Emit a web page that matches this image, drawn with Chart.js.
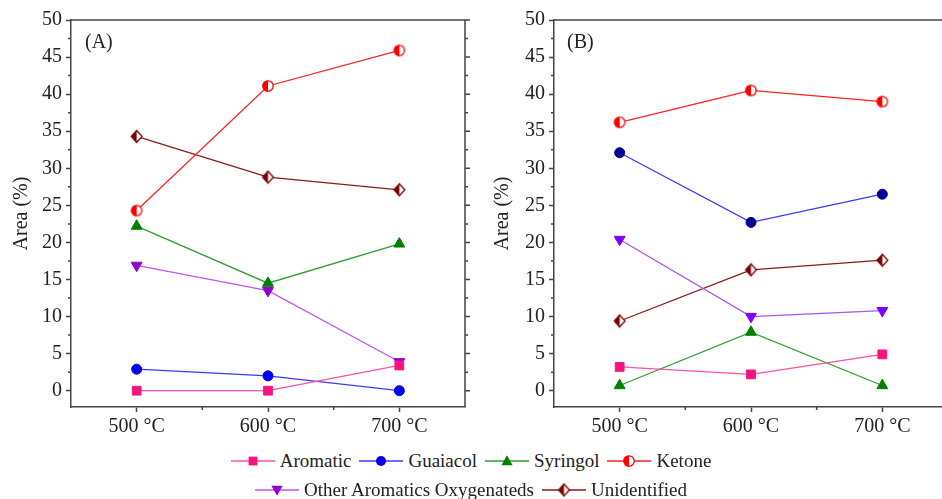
<!DOCTYPE html>
<html lang="en">
<head>
  <meta charset="UTF-8" />
  <title>Area (%) by temperature</title>
  <script src="https://cdn.jsdelivr.net/npm/chart.js"></script>
  <style>
    html, body {
      margin: 0; padding: 0;
      background: #fff;
      width: 942px; height: 499px;
      overflow: hidden; position: relative;
      font-family: 'Liberation Serif', 'Times New Roman', serif;
      color: #222;
    }
    #chartA { position: absolute; left: 0; top: 0; }
    #chartB { position: absolute; left: 480px; top: 0; }
    .tag { position: absolute; top: 29px; font-size: 20px; line-height: 24px; }
    #legend {
      position: absolute; left: 0; right: 0; top: 446px;
      font-size: 19px; line-height: 29px;
    }
    .row { display: flex; justify-content: center; align-items: center; }
    .item { display: flex; align-items: center; margin: 0 4px; }
    .item canvas { margin-right: 5px; }
  </style>
</head>
<body>
  <canvas id="chartA" width="480" height="445"></canvas>
  <canvas id="chartB" width="480" height="445"></canvas>
  <div class="tag" style="left:85px">(A)</div>
  <div class="tag" style="left:567px">(B)</div>
  <div id="legend">
    <div class="row" id="row1"></div>
    <div class="row" id="row2"></div>
  </div>

  <script>
    // ─── data ───────────────────────────────────────────────
    const TEMPS       = [500, 600, 700];
    const TICK_LABELS = ['500 °C', '600 °C', '700 °C'];
    const Y_TICKS     = [0, 5, 10, 15, 20, 25, 30, 35, 40, 45, 50];
    const SERIES      = ['Aromatic', 'Guaiacol', 'Syringol', 'Ketone',
                         'Other Aromatics Oxygenateds', 'Unidentified'];

    // panel (A)
    const aromaticA     = [0, 0, 3.4];
    const guaiacolA     = [2.9, 2.0, 0];
    const syringolA     = [22.2, 14.5, 19.8];
    const ketoneA       = [24.3, 41.1, 45.9];
    const otherOxyA     = [16.9, 13.5, 3.9];
    const unidentifiedA = [34.3, 28.8, 27.1];

    // panel (B)
    const aromaticB     = [3.2, 2.2, 4.9];
    const guaiacolB     = [32.1, 22.7, 26.5];
    const syringolB     = [0.7, 7.9, 0.7];
    const ketoneB       = [36.2, 40.5, 39.0];
    const otherOxyB     = [20.4, 10.0, 10.8];
    const unidentifiedB = [9.4, 16.3, 17.6];

    const FONT = "'Liberation Serif', 'Times New Roman', serif";
    const AXIS = '#444';

    // ─── half-filled marker images ──────────────────────────
    function halfCircle(color, r) {
      const c = document.createElement('canvas');
      const s = 2 * r + 3; c.width = c.height = s;
      const g = c.getContext('2d'), m = s / 2;
      g.fillStyle = '#fff';
      g.beginPath(); g.arc(m, m, r, 0, Math.PI * 2); g.fill();
      g.fillStyle = color;
      g.beginPath(); g.arc(m, m, r, Math.PI / 2, Math.PI * 1.5); g.closePath(); g.fill();
      g.strokeStyle = color; g.lineWidth = 1.3;
      g.beginPath(); g.arc(m, m, r - 0.3, 0, Math.PI * 2); g.stroke();
      return c;
    }
    function halfDiamond(color, r) {
      const c = document.createElement('canvas');
      const s = 2 * r + 3; c.width = c.height = s;
      const g = c.getContext('2d'), m = s / 2;
      const w = r * 0.9;
      g.fillStyle = '#fff';
      g.beginPath(); g.moveTo(m, m - r); g.lineTo(m + w, m); g.lineTo(m, m + r); g.lineTo(m - w, m); g.closePath(); g.fill();
      g.fillStyle = color;
      g.beginPath(); g.moveTo(m, m - r); g.lineTo(m, m + r); g.lineTo(m - w, m); g.closePath(); g.fill();
      g.strokeStyle = color; g.lineWidth = 1.3;
      g.beginPath(); g.moveTo(m, m - r); g.lineTo(m + w, m); g.lineTo(m, m + r); g.lineTo(m - w, m); g.closePath(); g.stroke();
      return c;
    }

    // styles per series: line colour, marker colour in A and in B
    const STYLES = [
      { line: '#FF50A8', markA: '#F5147F', markB: '#F5147F', style: 'rect',     radius: 6.2 },
      { line: '#3A3AFF', markA: '#0000F0', markB: '#000090', style: 'circle',   radius: 5 },
      { line: '#30A030', markA: '#008000', markB: '#008000', style: 'triangle', radius: 6.3 },
      { line: '#FF2020', markA: '#FF0000', markB: '#FF0000', style: 'halfC',    radius: 5.5 },
      { line: '#C455EE', markA: '#9400CC', markB: '#8000FF', style: 'triDown',  radius: 6.3 },
      { line: '#8B1A1A', markA: '#7A0000', markB: '#7A0000', style: 'halfD',    radius: 6 }
    ];
    const LINE_B = ['#FF50A8', '#3A3AFF', '#30A030', '#FF2020', '#A855F7', '#8B1A1A'];

    function pointStyleFor(st, color) {
      if (st.style === 'halfC') return halfCircle(color, st.radius);
      if (st.style === 'halfD') return halfDiamond(color, st.radius);
      if (st.style === 'triDown') return 'triangle';
      return st.style;
    }

    function makeSets(values, panel) {
      return values.map((vals, i) => {
        const st = STYLES[i];
        const mark = panel === 'A' ? st.markA : st.markB;
        return {
          label: SERIES[i],
          data: TEMPS.map((t, j) => ({ x: t, y: vals[j] })),
          borderColor: panel === 'A' ? st.line : LINE_B[i],
          borderWidth: 1.3,
          pointStyle: pointStyleFor(st, mark),
          pointRotation: st.style === 'triDown' ? 180 : 0,
          pointRadius: st.radius,
          pointBackgroundColor: mark,
          pointBorderColor: mark,
          pointBorderWidth: 1,
          tension: 0,
          clip: false
        };
      });
    }

    // ─── frame + minor ticks ───────────────────────────────
    const framePlugin = {
      id: 'frame',
      afterDraw(chart, args, opts) {
        const { ctx, chartArea: a } = chart;
        const x = chart.scales.x, y = chart.scales.y;
        ctx.save();
        ctx.strokeStyle = AXIS; ctx.lineWidth = 1.5;
        ctx.beginPath();
        ctx.moveTo(a.left, a.top); ctx.lineTo(a.right, a.top); ctx.lineTo(a.right, a.bottom);
        // minor ticks on y
        for (let v = 2.5; v < 50; v += 5) {
          const py = y.getPixelForValue(v);
          ctx.moveTo(a.left, py); ctx.lineTo(a.left - 3, py);
          if (opts.mirror) { ctx.moveTo(a.right, py); ctx.lineTo(a.right + 3, py); }
        }
        if (opts.mirror) {
          Y_TICKS.forEach(v => {
            const py = y.getPixelForValue(v);
            ctx.moveTo(a.right, py); ctx.lineTo(a.right + 5, py);
          });
        }
        // minor ticks on x
        [550, 650].forEach(v => {
          const px = x.getPixelForValue(v);
          ctx.moveTo(px, a.bottom); ctx.lineTo(px, a.bottom + 3);
        });
        ctx.stroke();
        ctx.restore();
      }
    };

    function makeChart(id, values, panel, yWidth, rightPad, titlePad) {
      return new Chart(document.getElementById(id), {
        type: 'line',
        data: { datasets: makeSets(values, panel) },
        plugins: [framePlugin],
        options: {
          responsive: false,
          animation: false,
          layout: { padding: { top: 20, right: rightPad, bottom: 0, left: 0 } },
          scales: {
            x: {
              type: 'linear', min: 450, max: 750,
              afterBuildTicks: s => { s.ticks = TEMPS.map(v => ({ value: v })); },
              afterFit: s => { s.height = 38; },
              ticks: {
                color: '#222', padding: 3,
                font: { family: FONT, size: 20 },
                callback: v => TICK_LABELS[TEMPS.indexOf(v)]
              },
              grid: { drawOnChartArea: false, tickLength: 5, tickColor: AXIS, tickWidth: 1.5 },
              border: { color: AXIS, width: 1.5 }
            },
            y: {
              type: 'linear', min: -2.2, max: 50,
              afterBuildTicks: s => { s.ticks = Y_TICKS.map(v => ({ value: v })); },
              afterFit: s => { s.width = yWidth; },
              ticks: { color: '#222', padding: 4, font: { family: FONT, size: 20 } },
              grid: { drawOnChartArea: false, tickLength: 5, tickColor: AXIS, tickWidth: 1.5 },
              border: { color: AXIS, width: 1.5 },
              title: {
                display: true, text: 'Area (%)', color: '#222',
                font: { family: FONT, size: 20 },
                padding: { top: titlePad, bottom: 0 }
              }
            }
          },
          plugins: {
            legend: { display: false },
            tooltip: { enabled: false },
            frame: { mirror: panel === 'A' }
          }
        }
      });
    }

    makeChart('chartA',
      [aromaticA, guaiacolA, syringolA, ketoneA, otherOxyA, unidentifiedA], 'A', 71, 15, 10);
    makeChart('chartB',
      [aromaticB, guaiacolB, syringolB, ketoneB, otherOxyB, unidentifiedB], 'B', 74, 12, 11);

    // ─── shared legend ─────────────────────────────────────
    function drawMark(g, st, color, x, y) {
      const r = st.radius;
      g.fillStyle = color; g.strokeStyle = color;
      if (st.style === 'rect') {
        const h = r * Math.SQRT1_2; g.fillRect(x - h, y - h, 2 * h, 2 * h);
      } else if (st.style === 'circle') {
        g.beginPath(); g.arc(x, y, r, 0, Math.PI * 2); g.fill();
      } else if (st.style === 'triangle' || st.style === 'triDown') {
        const d = st.style === 'triangle' ? 1 : -1, h = r * 0.9;
        g.beginPath(); g.moveTo(x, y - d * h); g.lineTo(x + h, y + d * h * 0.75); g.lineTo(x - h, y + d * h * 0.75); g.closePath(); g.fill();
      } else {
        const img = pointStyleFor(st, color);
        g.drawImage(img, x - img.width / 2, y - img.height / 2);
      }
    }

    SERIES.forEach((name, i) => {
      const st = STYLES[i];
      const item = document.createElement('div'); item.className = 'item';
      const cv = document.createElement('canvas'); cv.width = 44; cv.height = 18;
      const g = cv.getContext('2d');
      g.strokeStyle = st.line; g.lineWidth = 1.3;
      g.beginPath(); g.moveTo(0, 9); g.lineTo(44, 9); g.stroke();
      drawMark(g, st, st.markA, 22, 9);
      const tx = document.createElement('span'); tx.textContent = name;
      item.appendChild(cv); item.appendChild(tx);
      document.getElementById(i < 4 ? 'row1' : 'row2').appendChild(item);
    });
  </script>
</body>
</html>
